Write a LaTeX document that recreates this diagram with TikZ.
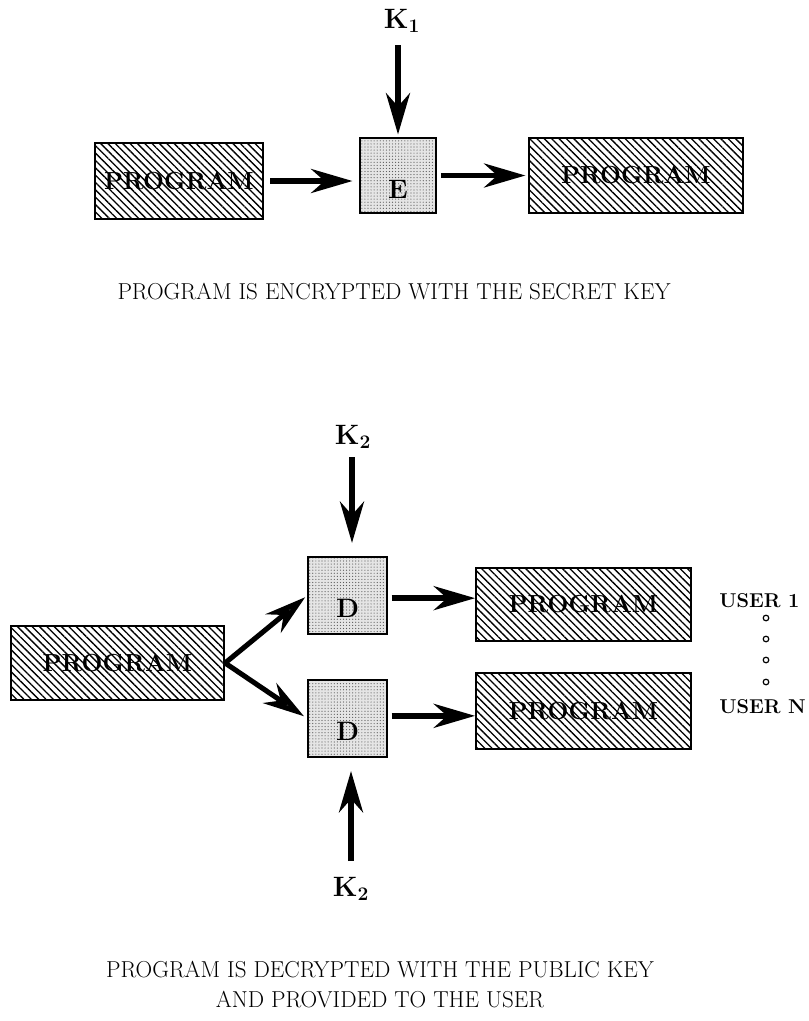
\documentclass[tikz,border=0pt]{standalone}
\usetikzlibrary{patterns.meta,arrows.meta}
\begin{document}
\begin{tikzpicture}[x=0.75pt,y=-0.75pt,
  prog/.style={draw=black, line width=1.4pt, inner sep=0pt,
    pattern={Lines[angle=-45,distance=3.9pt,line width=1pt]},
    font=\fontsize{18.5}{22}\bfseries\selectfont},
  cryptbox/.style={draw=black, line width=1.3pt, inner sep=0pt,
    preaction={fill=black!10},
    pattern={Dots[distance=2.3pt,radius=0.45pt]}, pattern color=black!65,
    minimum width=59pt, minimum height=57.5pt},
  boxlabel/.style={font=\fontsize{20}{24}\bfseries\selectfont, inner sep=0pt},
  keylabel/.style={font=\fontsize{21}{25}\bfseries\selectfont, inner sep=0pt},
  caption/.style={font=\fontsize{17.3}{20}\selectfont, inner sep=0pt},
  userlabel/.style={font=\fontsize{15}{18}\bfseries\selectfont, inner sep=0pt, anchor=west},
  dot/.style={circle, draw=black, line width=0.9pt, inner sep=0pt, minimum size=4.2pt},
  flow/.style={line width=4.2pt, draw=black,
    -{Stealth[length=31pt,width=18pt,inset=10pt,fill=black!80]}},
]
\useasboundingbox (0,0) rectangle (809,1021);
\fill[white] (0,0) rectangle (809,1021);

% ---------- top: encryption ----------
\node[prog, minimum width=126pt, minimum height=57pt] (p1) at (179,181) {PROGRAM};
\node[cryptbox, minimum width=57pt, minimum height=56.25pt] (e) at (398,175.5) {};
\node[boxlabel] (elab) at (398,189) {E};
\node[prog, minimum width=160.5pt, minimum height=56.25pt] (p2) at (636,175.5) {PROGRAM};
\node[keylabel] (k1) at (402,21) {K$_{\mathbf{1}}$};
\coordinate (k1top) at (398,45);

\draw[flow] (k1top) -- (e.north) [shorten >=2pt];
\draw[flow, shorten <=5pt, shorten >=5pt] (p1.east) -- (p1.east -| e.west);
\draw[flow, shorten <=3pt, shorten >=2pt] (e.east) -- (e.east -| p2.west);

\node[caption] (cap1) at (394,292) {PROGRAM IS ENCRYPTED WITH THE SECRET KEY};

% ---------- bottom: decryption ----------
\node[prog, minimum width=160pt, minimum height=55.5pt] (p3) at (117.5,663) {PROGRAM};
\node[cryptbox] (d1) at (347.5,595.5) {};
\node[boxlabel] (d1lab) at (347.5,608) {D};
\node[cryptbox] (d2) at (347.5,718.5) {};
\node[boxlabel] (d2lab) at (347.5,731) {D};
\node[prog, minimum width=161.25pt, minimum height=54.75pt] (p4) at (583.5,604.5) {PROGRAM};
\node[prog, minimum width=161.25pt, minimum height=57pt] (p5) at (583.5,711) {PROGRAM};

\node[keylabel] (k2a) at (353,437) {K$_{\mathbf{2}}$};
\coordinate (k2atop) at (352,457);
\node[keylabel] (k2b) at (351,889) {K$_{\mathbf{2}}$};
\coordinate (k2bbot) at (351,861);

\draw[flow, shorten >=10pt] (k2atop) -- (k2atop |- d1.north);
\draw[flow, shorten >=10pt] (k2bbot) -- (k2bbot |- d2.south);

\draw[flow, line width=3.8pt, shorten >=2pt] (p3.east) -- (d1.west);
\draw[flow, line width=3.8pt, shorten >=3pt] (p3.east) -- (d2.west);

\draw[flow, shorten <=3pt] ([yshift=-2pt]d1.east) -- ([yshift=-2pt]d1.east -| p4.west);
\draw[flow, shorten <=3pt] ([yshift=2pt]d2.east) -- ([yshift=2pt]d2.east -| p5.west);

\node[userlabel] (u1) at (719,601) {USER 1};
\node[dot] (c1) at (766,618) {};
\node[dot] (c2) at (766,639) {};
\node[dot] (c3) at (766,660) {};
\node[dot] (c4) at (766,682) {};
\node[userlabel] (un) at (719,707) {USER N};

\node[caption] (cap2) at (380,970) {PROGRAM IS DECRYPTED WITH THE PUBLIC KEY};
\node[caption] (cap3) at (380,1000) {AND PROVIDED TO THE USER};
\end{tikzpicture}
\end{document}
